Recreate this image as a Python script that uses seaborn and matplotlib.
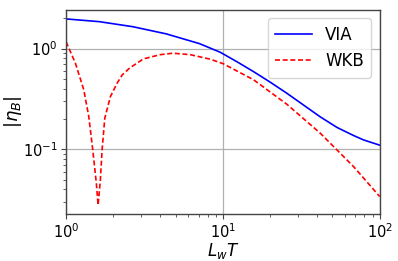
import numpy as np
import pandas as pd
import seaborn as sns
import matplotlib
matplotlib.use("Agg")
import matplotlib.pyplot as plt

# VIA curve (blue, solid)
via_x = [1.0, 1.63, 2.66, 4.35, 7.09, 9.61, 12.3, 15.7, 20.0, 25.6, 32.7, 41.8, 53.4, 68.2, 78.9, 100.0]
via_y = [1.97, 1.85, 1.65, 1.40, 1.12, 0.92, 0.74, 0.59, 0.465, 0.36, 0.275, 0.21, 0.165, 0.137, 0.124, 0.11]

# WKB curve (red, dashed)
wkb_x = [1.0, 1.147, 1.297, 1.396, 1.48, 1.56, 1.60, 1.655, 1.697, 1.766, 1.918, 2.115,
         2.28, 2.54, 3.11, 3.98, 4.8, 6.19, 7.09, 8.3, 10.0, 15.7, 25.6, 41.8, 53.4, 68.2, 100.0]
wkb_y = [1.17, 0.716, 0.39, 0.211, 0.0986, 0.046, 0.028, 0.0497, 0.0986, 0.204, 0.334, 0.453,
         0.548, 0.64, 0.79, 0.87, 0.90, 0.87, 0.83, 0.785, 0.71, 0.49, 0.28, 0.1445, 0.0986, 0.0673, 0.034]

labels = ["VIA", "WKB"]

df = pd.concat([
    pd.DataFrame({"x": via_x, "y": via_y, "method": labels[0]}),
    pd.DataFrame({"x": wkb_x, "y": wkb_y, "method": labels[1]}),
], ignore_index=True)

fig = plt.figure(figsize=(3.98, 2.61), dpi=100)
ax = fig.add_axes([0.166, 0.18, 0.788, 0.782])

sns.lineplot(data=df, x="x", y="y", hue="method", style="method",
             palette={"VIA": "blue", "WKB": "red"},
             dashes={"VIA": "", "WKB": (3, 1.6)}, linewidth=1.2, ax=ax, sort=False)

ax.set_xscale("log")
ax.set_yscale("log")
ax.set_xlim(1, 100)
ax.set_ylim(0.0228, 2.42)
ax.grid(True, which="major", color="#b0b0b0", linewidth=0.9)
ax.set_axisbelow(True)
for s in ax.spines.values():
    s.set_color("#444444")
    s.set_linewidth(1.0)
ax.tick_params(which="both", colors="#444444", labelcolor="black", labelsize=10.5)
ax.tick_params(which="major", length=3.5, pad=2.5)
ax.tick_params(which="minor", length=2)

ax.set_xlabel(r"$L_wT$", fontsize=12, labelpad=0)
ax.set_ylabel(r"$|\eta_B|$", fontsize=13)
ax.yaxis.set_label_coords(-0.135, 0.5)

leg = ax.legend(loc="upper right", fontsize=12, handlelength=2.2, borderpad=0.45,
                labelspacing=0.5, framealpha=0.8)
leg.get_frame().set_edgecolor("#cccccc")

fig.savefig("out.png", dpi=100)
